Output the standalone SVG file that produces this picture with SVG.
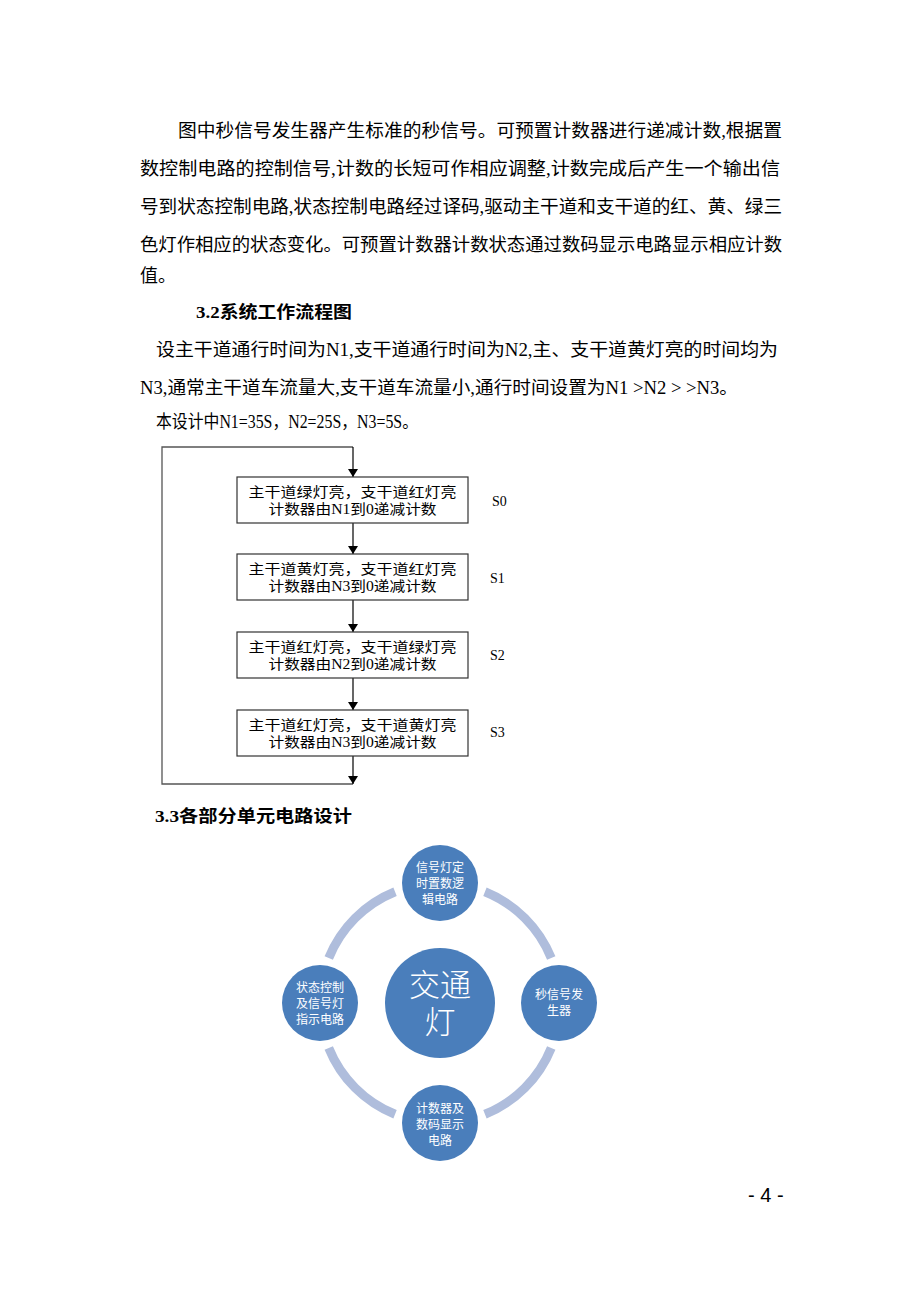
<svg xmlns="http://www.w3.org/2000/svg" width="920" height="1302" viewBox="0 0 920 1302">
<style>
.p{font-family:"Liberation Serif","Noto Sans CJK SC",serif;font-size:18px;fill:#000}
.h{font-family:"Liberation Serif","Noto Sans CJK SC",serif;font-size:17px;font-weight:bold;fill:#000}
.bx{fill:#fff;stroke:#333;stroke-width:1.2}
.bt{font-family:"Liberation Serif","Noto Sans CJK SC",serif;font-size:14px;fill:#000;text-anchor:middle}
.st{font-family:"Liberation Serif","Noto Sans CJK SC",serif;font-size:14px;fill:#000}
.ln{fill:none;stroke:#555;stroke-width:1.3}
.arc{fill:none;stroke:#afbddc;stroke-width:9}
.nd{fill:#4a7ebb}
.nt{font-family:"Noto Sans CJK SC","Liberation Sans",sans-serif;font-size:12px;fill:#fff;text-anchor:middle}
.ct{font-family:"Noto Sans CJK SC","Liberation Sans",sans-serif;font-size:31px;font-weight:300;fill:#fff;text-anchor:middle}
</style>
<defs>
<marker id="ah" markerWidth="8" markerHeight="10" refX="8" refY="5" orient="auto" markerUnits="userSpaceOnUse">
<path d="M0,0 L8,5 L0,10 Z" fill="#000"/>
</marker>
</defs>
<rect width="920" height="1302" fill="#fff"/>

<g id="text-body">
<text class="p" x="178" y="137" textLength="604" lengthAdjust="spacingAndGlyphs">图中秒信号发生器产生标准的秒信号。可预置计数器进行递减计数,根据置</text>
<text class="p" x="140" y="175" textLength="640" lengthAdjust="spacingAndGlyphs">数控制电路的控制信号,计数的长短可作相应调整,计数完成后产生一个输出信</text>
<text class="p" x="140" y="213" textLength="642" lengthAdjust="spacingAndGlyphs">号到状态控制电路,状态控制电路经过译码,驱动主干道和支干道的红、黄、绿三</text>
<text class="p" x="140" y="251" textLength="642" lengthAdjust="spacingAndGlyphs">色灯作相应的状态变化。可预置计数器计数状态通过数码显示电路显示相应计数</text>
<text class="p" x="140" y="282">值。</text>
<text class="h" x="196" y="318" textLength="156" lengthAdjust="spacingAndGlyphs">3.2系统工作流程图</text>
<text class="p" x="156" y="356" textLength="622" lengthAdjust="spacingAndGlyphs">设主干道通行时间为N1,支干道通行时间为N2,主、支干道黄灯亮的时间均为</text>
<text class="p" x="140" y="394" textLength="598" lengthAdjust="spacingAndGlyphs">N3,通常主干道车流量大,支干道车流量小,通行时间设置为N1 &gt;N2 &gt; &gt;N3。</text>
<text class="p" x="156" y="428" textLength="262" lengthAdjust="spacingAndGlyphs">本设计中N1=35S，N2=25S，N3=5S。</text>
<text class="h" x="155" y="822" textLength="197" lengthAdjust="spacingAndGlyphs">3.3各部分单元电路设计</text>
<text x="748" y="1202" font-family="Liberation Sans,sans-serif" font-size="20" fill="#000">- 4 -</text>
</g>

<g id="connectors">
<polyline class="ln" points="353,784 162,784 162,447 353,447"/>
<line x1="353" y1="447" x2="353" y2="477" stroke="#000" stroke-width="1.2" marker-end="url(#ah)"/>
<line x1="353" y1="523" x2="353" y2="554" stroke="#000" stroke-width="1.2" marker-end="url(#ah)"/>
<line x1="353" y1="600" x2="353" y2="632" stroke="#000" stroke-width="1.2" marker-end="url(#ah)"/>
<line x1="353" y1="678" x2="353" y2="710" stroke="#000" stroke-width="1.2" marker-end="url(#ah)"/>
<line x1="353" y1="756" x2="353" y2="784" stroke="#000" stroke-width="1.2" marker-end="url(#ah)"/>
</g>

<g id="s0">
<rect class="bx" x="237" y="477" width="231" height="46"/>
<text class="bt" x="352.5" y="497" textLength="208" lengthAdjust="spacingAndGlyphs">主干道绿灯亮，支干道红灯亮</text>
<text class="bt" x="352.5" y="514" textLength="168" lengthAdjust="spacingAndGlyphs">计数器由N1到0递减计数</text>
<text class="st" x="492" y="506">S0</text>
</g>
<g id="s1">
<rect class="bx" x="237" y="554" width="231" height="46"/>
<text class="bt" x="352.5" y="574" textLength="208" lengthAdjust="spacingAndGlyphs">主干道黄灯亮，支干道红灯亮</text>
<text class="bt" x="352.5" y="591" textLength="168" lengthAdjust="spacingAndGlyphs">计数器由N3到0递减计数</text>
<text class="st" x="490" y="583">S1</text>
</g>
<g id="s2">
<rect class="bx" x="237" y="632" width="231" height="46"/>
<text class="bt" x="352.5" y="652" textLength="208" lengthAdjust="spacingAndGlyphs">主干道红灯亮，支干道绿灯亮</text>
<text class="bt" x="352.5" y="669" textLength="168" lengthAdjust="spacingAndGlyphs">计数器由N2到0递减计数</text>
<text class="st" x="490" y="660">S2</text>
</g>
<g id="s3">
<rect class="bx" x="237" y="710" width="231" height="46"/>
<text class="bt" x="352.5" y="730" textLength="208" lengthAdjust="spacingAndGlyphs">主干道红灯亮，支干道黄灯亮</text>
<text class="bt" x="352.5" y="747" textLength="168" lengthAdjust="spacingAndGlyphs">计数器由N3到0递减计数</text>
<text class="st" x="490" y="737">S3</text>
</g>

<g id="ring">
<path class="arc" d="M484.95,891.74 A120,120 0 0 1 551.26,958.05"/>
<path class="arc" d="M551.26,1047.95 A120,120 0 0 1 484.95,1114.26"/>
<path class="arc" d="M395.05,1114.26 A120,120 0 0 1 328.74,1047.95"/>
<path class="arc" d="M328.74,958.05 A120,120 0 0 1 395.05,891.74"/>
</g>

<g id="center">
<circle class="nd" cx="440" cy="1003" r="55"/>
<text class="ct" x="440" y="996">交通</text>
<text class="ct" x="440" y="1033">灯</text>
</g>
<g id="top">
<circle class="nd" cx="440" cy="883" r="38"/>
<text class="nt" x="440" y="872">信号灯定</text>
<text class="nt" x="440" y="888">时置数逻</text>
<text class="nt" x="440" y="904">辑电路</text>
</g>
<g id="right">
<circle class="nd" cx="559" cy="1003" r="38"/>
<text class="nt" x="559" y="999">秒信号发</text>
<text class="nt" x="559" y="1015">生器</text>
</g>
<g id="bottom">
<circle class="nd" cx="440" cy="1123" r="38"/>
<text class="nt" x="440" y="1113">计数器及</text>
<text class="nt" x="440" y="1129">数码显示</text>
<text class="nt" x="440" y="1145">电路</text>
</g>
<g id="left">
<circle class="nd" cx="320" cy="1003" r="38"/>
<text class="nt" x="320" y="992">状态控制</text>
<text class="nt" x="320" y="1008">及信号灯</text>
<text class="nt" x="320" y="1024">指示电路</text>
</g>
</svg>
